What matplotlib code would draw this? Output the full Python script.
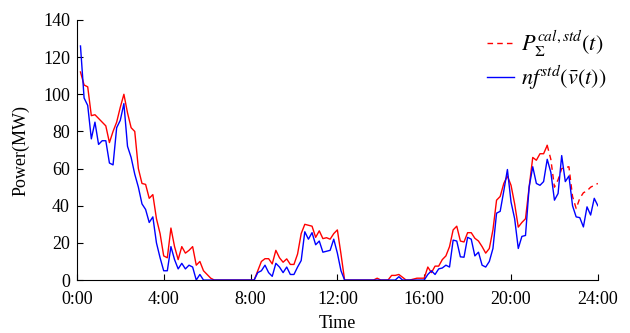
import numpy as np
import matplotlib
matplotlib.use("Agg")
import matplotlib.pyplot as plt

# 10-minute samples, 0:10 .. 24:00
p_cal = [
    112, 105, 104, 88.5, 89, 87, 85, 83, 74, 80, 85, 93, 100, 90, 82, 80,
    60, 52, 51.5, 44, 46, 33, 25, 13, 12, 28, 18, 11, 18, 14.5, 16, 18,
    8, 10, 5, 3, 1,
    0, 0, 0, 0, 0, 0, 0, 0, 0, 0, 0, 0,
    5, 10, 11.5, 11.5, 8.7, 16, 12, 9.6, 11.4, 8.4, 8.4, 14, 25, 30,
    29.5, 29, 23, 26.5, 22.3, 22.8, 22, 25, 27, 14,
    0, 0, 0, 0, 0, 0, 0, 0, 0,
    1, 0, 0, 0,
    2.5, 2.5, 3, 1.5, 0, 0, 0.5, 1, 1, 1,
    7, 4, 7.5, 7.5, 11, 13, 18, 27, 29, 21, 20.5, 25.5, 25.5, 22.5,
    21, 18, 14.5, 17, 27, 43, 45, 52, 56, 51, 41, 28.5, 31, 33, 50,
    66, 64.5, 68, 68, 72.5, 65, 50, 54, 60, 60.5, 61, 45, 38.5, 44, 47,
    48, 50, 51, 52,
]
nf_std = [
    126, 98, 94, 76, 85, 73, 75, 75, 63, 62, 82, 86, 95, 72, 66, 57,
    50, 41, 38, 31, 34, 20, 12, 5, 5, 18, 11, 6, 9, 6, 8, 7, 0, 3,
    0, 0, 0, 0, 0, 0, 0, 0, 0, 0, 0, 0, 0, 0, 0,
    4, 5, 8, 4, 2, 9, 7, 4, 7, 3, 3, 7, 10.5, 26, 22, 25.5, 19, 21,
    15, 15.5, 16, 22, 14.5, 5,
    0, 0, 0, 0, 0, 0, 0, 0, 0, 0, 0, 0, 0, 0, 0,
    1.8,
    0, 0, 0, 0, 0, 0, 0,
    3, 5, 3, 6, 6.5, 8, 7, 21.5, 21, 12.5, 12.3, 23, 22, 13, 15, 8, 7,
    10, 17, 36, 37, 48, 59.5, 42, 33, 17, 23.5, 24, 50, 61, 52, 51, 53,
    65, 58, 43, 46.6, 67, 53, 56, 40, 34, 33.6, 28.6, 39.4, 35, 44, 40,
]
hours = np.arange(1, len(nf_std) + 1) / 6.0
xtick_labels = ["0:00", "4:00", "8:00", "12:00", "16:00", "20:00", "24:00"]

plt.rcParams["font.family"] = "Liberation Serif"
plt.rcParams["mathtext.fontset"] = "stix"

fig = plt.figure(figsize=(6.3, 3.33), dpi=100)
ax = fig.add_axes([0.122, 0.159, 0.827, 0.781])

# the calculated curve switches to dashes after the evening peak
split = 129
ax.plot(hours[:split + 1], p_cal[:split + 1], color="#ff0000", lw=1.0)
red, = ax.plot(hours[split:], p_cal[split:], color="#ff0000", lw=1.0,
               ls=(0, (4, 3)))
blue, = ax.plot(hours, nf_std, color="#0000ff", lw=1.0)

ax.set_xlim(0, 24)
ax.set_ylim(0, 140)
ax.set_xticks(np.arange(0, 25, 4))
ax.set_xticklabels(xtick_labels)
ax.set_yticks(np.arange(0, 141, 20))
ax.tick_params(direction="in", labelsize=13, length=4)
ax.tick_params(axis="x", pad=8)
ax.tick_params(axis="y", pad=5)
ax.spines["top"].set_visible(False)
ax.spines["right"].set_visible(False)
ax.set_xlabel("Time", fontsize=13, labelpad=5)
ax.set_ylabel("Power(MW)", fontsize=13, labelpad=10)

fig.legend([red, blue],
           [r"$P_{\Sigma}^{cal,std}(t)$", r"$nf^{std}(\bar{v}(t))$"],
           loc="upper left", bbox_to_anchor=(0.742, 0.975), frameon=False,
           fontsize=16, handlelength=1.2, handletextpad=0.3,
           labelspacing=0.2)

fig.savefig("out.png", dpi=100)
